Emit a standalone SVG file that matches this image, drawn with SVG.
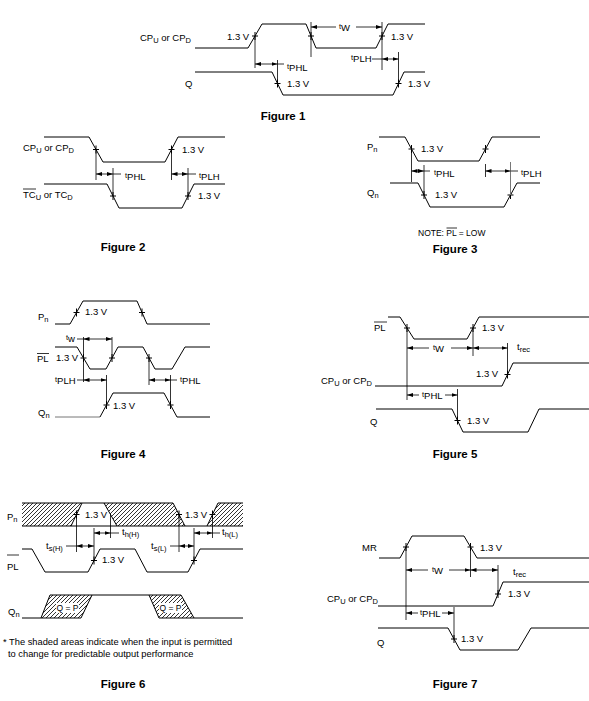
<svg xmlns="http://www.w3.org/2000/svg" width="589" height="701" viewBox="0 0 589 701">
<defs>
<style>
text{font-family:"Liberation Sans",Arial,Helvetica,sans-serif;font-size:9.5px;fill:#000}
.cap{font-size:11.5px;font-weight:bold;text-anchor:middle}
.sb{font-size:7.5px}
.w{fill:none;stroke:#000;stroke-width:1}
.g{fill:none;stroke:#000;stroke-width:0.8}
.gr{fill:none;stroke:#777;stroke-width:1}
.a{fill:none;stroke:#000;stroke-width:0.8;marker-start:url(#ah);marker-end:url(#ah)}
.as{fill:none;stroke:#000;stroke-width:0.8;marker-start:url(#ah)}
.ae{fill:none;stroke:#000;stroke-width:0.8;marker-end:url(#ah)}
.tk{fill:none;stroke:#000;stroke-width:1}
.ht{fill:url(#hatch);stroke:none}
</style>
<marker id="ah" viewBox="0 0 6 4" refX="6" refY="2" markerWidth="6" markerHeight="4" markerUnits="userSpaceOnUse" orient="auto-start-reverse"><path d="M0,0 L6,2 L0,4 z" fill="#000"/></marker>
<pattern id="hatch" patternUnits="userSpaceOnUse" width="4" height="4"><path d="M-1,1 L1,-1 M0,4 L4,0 M3,5 L5,3" stroke="#000" stroke-width="0.8"/></pattern>
</defs>
<rect width="589" height="701" fill="#fff"/>

<g id="fig1">
<g id="f1-cp"><text x="140" y="41">CP<tspan class="sb" dy="2">U</tspan><tspan dy="-2"> or CP</tspan><tspan class="sb" dy="2">D</tspan></text>
<polyline class="w" points="195,48 248,48 262,24 306,24 316,48 376,48 388,24 425,24"/></g>
<g id="f1-q"><text x="185" y="87">Q</text>
<polyline class="w" points="195,72 272,72 283,95 393,95 404,72 425,72"/></g>
<path class="tk" d="M252,36h6M255,32v8M308,36h6M311,32v8M379,36h6M382,32v8M274.5,83.5h6M277.5,79.5v8M395.5,83.5h6M398.5,79.5v8"/>
<g id="f1-dims">
<path class="g" d="M255,36V68M311,22V57M382,22V70M277.5,60V83M398.5,52V83M277.5,64H284M372,59H382"/>
<path class="as" d="M311,27H336"/><path class="ae" d="M356,27H382"/>
<path class="a" d="M255,64H277.5"/><path class="a" d="M382,59H398.5"/>
</g>
<text x="227" y="40">1.3 V</text><text x="391" y="40">1.3 V</text>
<text x="287" y="87">1.3 V</text><text x="408" y="87">1.3 V</text>
<text x="339" y="31"><tspan class="sb" dy="-2">t</tspan><tspan dy="2">W</tspan></text>
<text x="287" y="71"><tspan class="sb" dy="-2">t</tspan><tspan dy="2">PHL</tspan></text>
<text x="351" y="62"><tspan class="sb" dy="-2">t</tspan><tspan dy="2">PLH</tspan></text>
<text class="cap" x="283" y="120">Figure 1</text>
</g>

<g id="fig2">
<g id="f2-cp"><text x="23" y="151">CP<tspan class="sb" dy="2">U</tspan><tspan dy="-2"> or CP</tspan><tspan class="sb" dy="2">D</tspan></text>
<polyline class="w" points="44,137 89,137 103,162 165,162 178,137 225,137"/></g>
<g id="f2-tc"><text x="23" y="198">TC<tspan class="sb" dy="2">U</tspan><tspan dy="-2"> or TC</tspan><tspan class="sb" dy="2">D</tspan></text>
<path class="g" d="M23,189H36"/>
<polyline class="w" points="44,184 107,184 119,208 182,208 194,184 225,184"/></g>
<path class="tk" d="M93,149.5h6M96,145.5v8M168.5,149.5h6M171.5,145.5v8M110,196h6M113,192v8M185,196h6M188,192v8"/>
<g id="f2-dims">
<path class="g" d="M96,150V180M113,168V196M171.5,150V180M188,168V196M113,174H121M188,174H196"/>
<path class="a" d="M96,174H113"/><path class="a" d="M171.5,174H188"/>
</g>
<text x="125" y="180"><tspan class="sb" dy="-2">t</tspan><tspan dy="2">PHL</tspan></text>
<text x="199" y="180"><tspan class="sb" dy="-2">t</tspan><tspan dy="2">PLH</tspan></text>
<text x="182" y="153">1.3 V</text><text x="198" y="199">1.3 V</text>
<text class="cap" x="123" y="251">Figure 2</text>
</g>

<g id="fig3">
<g id="f3-pn"><text x="367" y="150">P<tspan class="sb" dy="2">n</tspan></text>
<polyline class="w" points="379,137 405,137 418,161 479,161 492,137 540,137"/></g>
<g id="f3-qn"><text x="367" y="196">Q<tspan class="sb" dy="2">n</tspan></text>
<polyline class="w" points="390,183 418,183 430,207 504,207 517,183 540,183"/></g>
<path class="tk" d="M408.5,149h6M411.5,145v8M482.5,149h6M485.5,145v8M421,195h6M424,191v8M507.5,195h6M510.5,191v8"/>
<g id="f3-dims">
<path class="g" d="M411.5,149V182M424,165V195M485.5,164V177M424,171H430M510.5,171H518"/>
<path class="gr" d="M510.5,162V195"/>
<path class="a" d="M411.5,171H424"/><path class="a" d="M485.5,171H510.5"/>
</g>
<text x="421" y="152">1.3 V</text><text x="435" y="198">1.3 V</text>
<text x="434" y="177"><tspan class="sb" dy="-2">t</tspan><tspan dy="2">PHL</tspan></text>
<text x="521" y="177"><tspan class="sb" dy="-2">t</tspan><tspan dy="2">PLH</tspan></text>
<text x="418" y="236" style="font-size:8.5px">NOTE: PL = LOW</text>
<path class="g" d="M446.5,228H457"/>
<text class="cap" x="455" y="253">Figure 3</text>
</g>

<g id="fig4">
<g id="f4-pn"><text x="38" y="320">P<tspan class="sb" dy="2">n</tspan></text>
<polyline class="w" points="55,324 70,324 83,301 137,301 147,324 210,324"/></g>
<g id="f4-pl"><text x="37" y="362">PL</text><path class="g" d="M37,353.5H49"/>
<polyline class="w" points="55,347 77,347 90,369 106,369 118,347 143,347 155,369 172,369 185,347 210,347"/></g>
<g id="f4-qn"><text x="38" y="416">Q<tspan class="sb" dy="2">n</tspan></text>
<path class="gr" d="M55,417H100"/>
<polyline class="w" points="100,417 113,393 164,393 177,417 210,417"/></g>
<path class="tk" d="M73.5,312.5h6M76.5,308.5v8M139,312.5h6M142,308.5v8M80.5,358h6M83.5,354v8M109,358h6M112,354v8M146,358h6M149,354v8M103.5,405h6M106.5,401v8M167.5,405h6M170.5,401v8"/>
<g id="f4-dims">
<path class="g" d="M83.5,337V382M112,337V358M106.5,375V405M149,358V385M170.5,375V405M77,339H83.5M77,380H83.5M170.5,380H177"/>
<path class="a" d="M83.5,339H112"/><path class="a" d="M83.5,380H106.5"/><path class="a" d="M149,380H170.5"/>
</g>
<text x="85" y="315">1.3 V</text><text x="56" y="361">1.3 V</text><text x="113" y="409">1.3 V</text>
<text x="66" y="342"><tspan class="sb" dy="-2">t</tspan><tspan dy="2">w</tspan></text>
<text x="55" y="384"><tspan class="sb" dy="-2">t</tspan><tspan dy="2">PLH</tspan></text>
<text x="180" y="384"><tspan class="sb" dy="-2">t</tspan><tspan dy="2">PHL</tspan></text>
<text class="cap" x="123" y="458">Figure 4</text>
</g>

<g id="fig5">
<g id="f5-pl"><text x="374" y="331">PL</text><path class="g" d="M374,322H387"/>
<polyline class="w" points="388,317 400,317 414,339 467,339 479,317 589,317"/></g>
<g id="f5-cp"><text x="321" y="384">CP<tspan class="sb" dy="2">U</tspan><tspan dy="-2"> or CP</tspan><tspan class="sb" dy="2">D</tspan></text>
<polyline class="w" points="375,386 502,386 513,363 589,363"/></g>
<g id="f5-q"><text x="370" y="425">Q</text>
<polyline class="w" points="376,409 452,409 463,432 528,432 539,409 589,409"/></g>
<path class="tk" d="M404,328h6M407,324v8M470,328h6M473,324v8M504.5,374.5h6M507.5,370.5v8M454.5,420.5h6M457.5,416.5v8"/>
<g id="f5-dims">
<path class="g" d="M407,328V400M473,328V356M507.5,343V375M457.5,389V420"/>
<path class="as" d="M407,348H429"/><path class="ae" d="M451,348H473"/>
<path class="a" d="M473,348H507.5"/>
<path class="as" d="M407,395H419"/><path class="ae" d="M445,395H457.5"/>
</g>
<text x="482" y="331">1.3 V</text><text x="476" y="377">1.3 V</text><text x="467" y="424">1.3 V</text>
<text x="433" y="352"><tspan class="sb" dy="-2">t</tspan><tspan dy="2">W</tspan></text>
<text x="517" y="350">t<tspan class="sb" dy="2">rec</tspan></text>
<text x="422" y="399"><tspan class="sb" dy="-2">t</tspan><tspan dy="2">PHL</tspan></text>
<text class="cap" x="455" y="458">Figure 5</text>
</g>

<g id="fig6">
<g id="f6-pn"><text x="7" y="520">P<tspan class="sb" dy="2">n</tspan></text>
<polygon class="ht" points="22,503 82,503 71,526 22,526"/>
<polygon class="ht" points="104,503 173,503 185,526 117,526"/>
<polygon class="ht" points="207,526 218,503 243,503 243,526"/>
<path class="w" d="M22,503H173M218,503H243M22,526H243M71,526L82,503M104,503L117,526M173,503L185,526M207,526L218,503"/></g>
<g id="f6-pl"><text x="7" y="570">PL</text><path class="g" d="M7,555H19"/>
<polyline class="w" points="22,549 32,549 45,572 88,572 100,549 135,549 147,572 188,572 200,549 243,549"/></g>
<g id="f6-qn"><text x="8" y="615">Q<tspan class="sb" dy="2">n</tspan></text>
<polygon class="ht" points="41,618 50,595 92,595 81,618"/>
<polygon class="ht" points="149,595 181,595 194,618 159,618"/>
<rect x="56" y="603" width="23" height="10" fill="#fff"/>
<rect x="159" y="603" width="23" height="10" fill="#fff"/>
<path class="w" d="M22,618H81M50,595H181M159,618H243M41,618L50,595M81,618L92,595M149,595L159,618M181,595L194,618"/>
<text x="67.5" y="611" text-anchor="middle" style="font-size:8.5px">Q = P</text>
<text x="170.5" y="611" text-anchor="middle" style="font-size:8.5px">Q = P</text></g>
<path class="tk" d="M73.5,514.5h6M76.5,510.5v8M176,514.5h6M179,510.5v8M209.5,514.5h6M212.5,510.5v8M91,560.5h6M94,556.5v8M191,560.5h6M194,556.5v8"/>
<g id="f6-dims">
<path class="g" d="M76.5,515V552M94,528V560M110.5,515V538M179,515V552M194,528V560M212.5,515V538M66,546H76.5M110.5,533H119M170,546H179M212.5,533H220"/>
<path class="a" d="M76.5,546H94"/><path class="a" d="M94,533H110.5"/>
<path class="a" d="M179,546H194"/><path class="a" d="M194,533H212.5"/>
</g>
<text x="85" y="518">1.3 V</text><text x="185" y="518">1.3 V</text><text x="102" y="563">1.3 V</text>
<text x="46" y="549">t<tspan class="sb" dy="2">s(H)</tspan></text>
<text x="122" y="535">t<tspan class="sb" dy="2">h(H)</tspan></text>
<text x="151" y="549">t<tspan class="sb" dy="2">s(L)</tspan></text>
<text x="222" y="535">t<tspan class="sb" dy="2">h(L)</tspan></text>
<text x="3" y="645" style="font-size:9.3px">* The shaded areas indicate when the input is permitted</text>
<text x="8" y="657" style="font-size:9.3px">to change for predictable output performance</text>
<text class="cap" x="123" y="688">Figure 6</text>
</g>

<g id="fig7">
<g id="f7-mr"><text x="362" y="551">MR</text>
<polyline class="w" points="379,558 400,558 412,536 464,536 477,558 589,558"/></g>
<g id="f7-cp"><text x="327" y="602">CP<tspan class="sb" dy="2">U</tspan><tspan dy="-2"> or CP</tspan><tspan class="sb" dy="2">D</tspan></text>
<polyline class="w" points="378,606 493,606 503,582 589,582"/></g>
<g id="f7-q"><text x="377" y="646">Q</text>
<polyline class="w" points="378,628 448,628 460,650 518,650 531,628 589,628"/></g>
<path class="tk" d="M403,547h6M406,543v8M467.5,547h6M470.5,543v8M495,594h6M498,590v8M451,639h6M454,635v8"/>
<g id="f7-dims">
<path class="g" d="M406,547V620M470.5,547V577M498,565V594M454,607V639"/>
<path class="as" d="M406,570H428"/><path class="ae" d="M449,570H470.5"/>
<path class="a" d="M470.5,570H498"/>
<path class="as" d="M406,613H418"/><path class="ae" d="M442,613H454"/>
</g>
<text x="480" y="551">1.3 V</text><text x="508" y="597">1.3 V</text><text x="461" y="642">1.3 V</text>
<text x="432" y="574"><tspan class="sb" dy="-2">t</tspan><tspan dy="2">W</tspan></text>
<text x="513" y="575">t<tspan class="sb" dy="2">rec</tspan></text>
<text x="420" y="617"><tspan class="sb" dy="-2">t</tspan><tspan dy="2">PHL</tspan></text>
<text class="cap" x="455" y="688">Figure 7</text>
</g>
</svg>
